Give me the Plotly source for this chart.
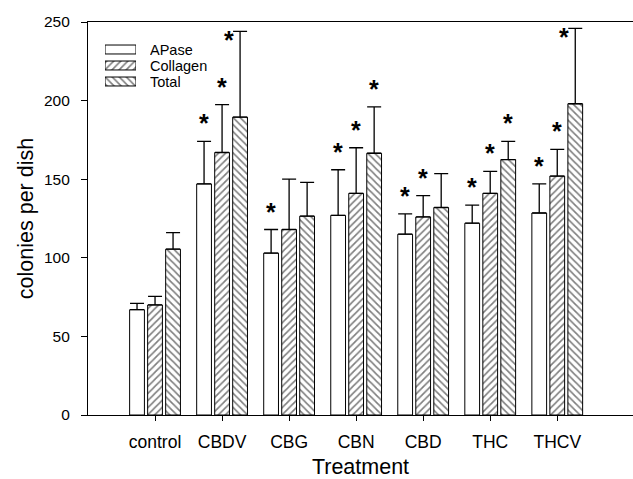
import plotly.graph_objects as go

categories = ["control", "CBDV", "CBG", "CBN", "CBD", "THC", "THCV"]
series_names = ["APase", "Collagen", "Total"]

apase = [67, 147, 103, 127, 115, 122, 128.5]
apase_err = [4, 27, 15, 29, 13, 11.5, 18.5]
collagen = [70, 167, 118, 141, 126, 141, 152]
collagen_err = [5.5, 30.5, 32, 29, 13.5, 14, 17]
total = [105.5, 189.5, 126.5, 166.5, 132, 162.5, 198]
total_err = [10.5, 54.5, 21.5, 29.5, 21.5, 11.5, 48]

apase_sig = [0, 1, 1, 1, 1, 1, 1]
collagen_sig = [0, 1, 0, 1, 1, 1, 1]
total_sig = [0, 1, 0, 1, 0, 1, 1]

y_ticks = [0, 50, 100, 150, 200, 250]

FONT = "Liberation Sans, Arial, sans-serif"
W, H = 633, 479
ML, MR, MT, MB = 88, 0, 22, 64
YMAX = 250
plot_w = W - ML - MR
plot_h = H - MT - MB
px_per_unit = plot_h / YMAX

values = [apase, collagen, total]
errs = [apase_err, collagen_err, total_err]
sigs = [apase_sig, collagen_sig, total_sig]
patterns = ["", "/", "\\"]


def pat(shape):
    return dict(shape=shape, fgcolor="black", bgcolor="white", size=5, solidity=0.33)


fig = go.Figure()
for name, v, e, shp in zip(series_names, values, errs, patterns):
    fig.add_trace(go.Bar(
        name=name, x=categories, y=v, showlegend=False,
        marker=dict(color="white", line=dict(color="black", width=1), pattern=pat(shp)),
        error_y=dict(type="data", array=e, arrayminus=[0] * len(e), symmetric=False,
                     color="black", thickness=1.3, width=7),
    ))

# legend drawn as a tiny horizontal bar chart in the top-left corner
fig.add_trace(go.Bar(
    x=[1, 1, 1], y=series_names, orientation="h", xaxis="x2", yaxis="y2",
    showlegend=False, hoverinfo="skip", width=0.56,
    marker=dict(color="white", line=dict(color="black", width=1),
                pattern=dict(shape=patterns, fgcolor="black", bgcolor="white",
                             size=5, solidity=0.33)),
))
leg_x0, leg_x1 = (105 - ML) / plot_w, (136 - ML) / plot_w
leg_ytop, leg_ybot = 41.5, 89.5
leg_y0 = (H - MB - leg_ybot) / plot_h
leg_y1 = (H - MB - leg_ytop) / plot_h
row_h = (leg_ybot - leg_ytop) / 3
for i, name in enumerate(series_names):
    yc = leg_ytop + (i + 0.5) * row_h
    fig.add_annotation(x=(148 - ML) / plot_w, y=(H - MB - yc) / plot_h, xref="paper", yref="paper",
                       text=name, showarrow=False, xanchor="left", yanchor="middle",
                       height=row_h, valign="middle",
                       font=dict(family=FONT, size=14.5, color="black"))

# significance stars
step_px = plot_w / 8.13
offsets = [-0.27 * step_px, 0, 0.27 * step_px]
for si in range(3):
    for ci, cat in enumerate(categories):
        if not sigs[si][ci]:
            continue
        top = values[si][ci] + errs[si][ci]
        cap_px = MT + (YMAX - top) * px_per_unit
        if cap_px - 21 < 32:
            xs, ys = offsets[si] - 11, -4
        else:
            xs, ys = offsets[si], 23
        fig.add_annotation(x=cat, y=top, xref="x", yref="y", text="<b>*</b>",
                           showarrow=False, xshift=xs, yshift=ys - 5,
                           font=dict(family=FONT, size=25, color="black"))

fig.update_layout(
    width=W, height=H,
    margin=dict(l=ML, r=MR, t=MT, b=MB),
    plot_bgcolor="white", paper_bgcolor="white",
    barmode="group", bargap=0.194, bargroupgap=0.18,
    font=dict(family=FONT, color="black"),
    showlegend=False,
    xaxis=dict(range=[-1, 7.13], showline=True, linecolor="black", linewidth=1.2,
               mirror=True, ticks="outside", ticklen=5, tickcolor="black",
               tickfont=dict(size=17.5), ticklabelstandoff=6,
               title=dict(text="Treatment", font=dict(size=21.5), standoff=12),
               showgrid=False, zeroline=False),
    yaxis=dict(range=[0, YMAX], tickvals=y_ticks, showline=True, linecolor="black",
               linewidth=1.2, ticks="outside", ticklen=6, tickcolor="black",
               tickfont=dict(size=15.5), ticklabelstandoff=8,
               title=dict(text="colonies per dish", font=dict(size=21.5), standoff=4),
               showgrid=False, zeroline=False),
    xaxis2=dict(domain=[leg_x0, leg_x1], anchor="y2", range=[0, 1], visible=False,
                fixedrange=True),
    yaxis2=dict(domain=[leg_y0, leg_y1], anchor="x2", range=[2.5, -0.5], visible=False,
                fixedrange=True),
)

fig.write_html("out.html")
